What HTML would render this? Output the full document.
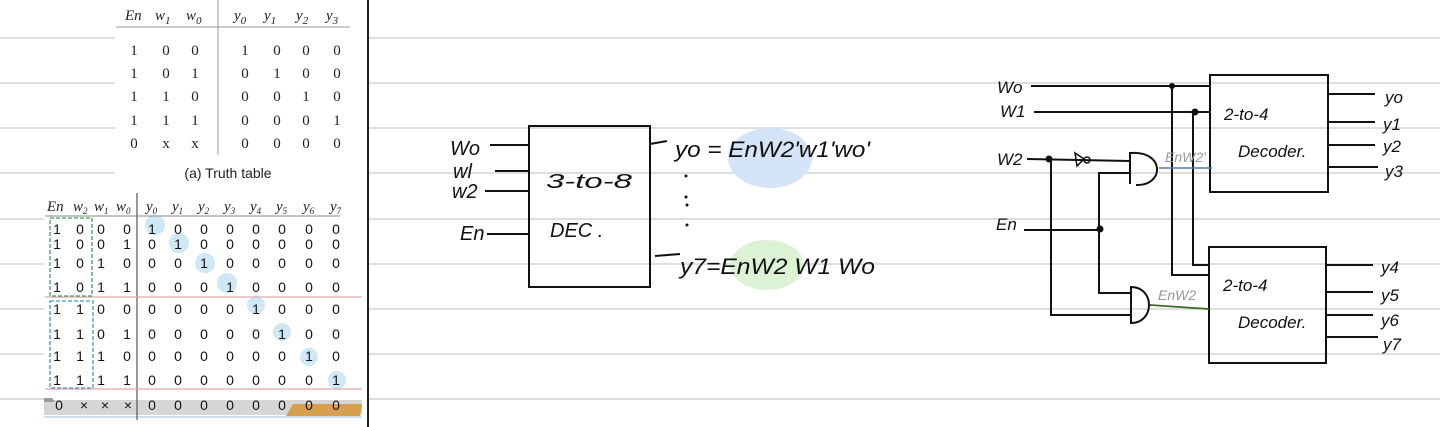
<!DOCTYPE html>
<html><head><meta charset="utf-8"><style>
html,body{margin:0;padding:0;background:#fff;}
svg{display:block}
.t{font-family:"Liberation Serif",serif;font-size:15px;fill:#222}
.ti{font-family:"Liberation Serif",serif;font-style:italic;font-size:15px;fill:#222}
.s{font-family:"Liberation Sans",sans-serif;font-size:14px;fill:#222}
.h{font-family:"Liberation Sans",sans-serif;font-style:italic;fill:#111}
</style></head><body>
<svg width="1440" height="427" viewBox="0 0 1440 427" xmlns="http://www.w3.org/2000/svg">
<g stroke="#d4d4d4" stroke-width="1.5">
<line x1="0" y1="38" x2="1440" y2="38"/><line x1="0" y1="83" x2="1440" y2="83"/>
<line x1="0" y1="128" x2="1440" y2="128"/><line x1="0" y1="173" x2="1440" y2="173"/>
<line x1="0" y1="219" x2="1440" y2="219"/><line x1="0" y1="264" x2="1440" y2="264"/>
<line x1="0" y1="309" x2="1440" y2="309"/><line x1="0" y1="354" x2="1440" y2="354"/>
<line x1="0" y1="399" x2="1440" y2="399"/>
</g>
<rect x="115" y="0" width="252" height="190" fill="#fff"/>
<rect x="44" y="190" width="323" height="237" fill="#fff"/>
<line x1="368" y1="0" x2="368" y2="427" stroke="#222" stroke-width="2"/>

<g class="ti" font-size="17">
<text x="125" y="20">En</text><text x="155" y="20">w<tspan font-size="11" dy="4">1</tspan></text><text x="186" y="20">w<tspan font-size="11" dy="4">0</tspan></text>
<text x="234" y="20">y<tspan font-size="11" dy="4">0</tspan></text><text x="264" y="20">y<tspan font-size="11" dy="4">1</tspan></text><text x="296" y="20">y<tspan font-size="11" dy="4">2</tspan></text><text x="326" y="20">y<tspan font-size="11" dy="4">3</tspan></text>
</g>
<line x1="116" y1="27" x2="350" y2="27" stroke="#999"/>
<line x1="218" y1="0" x2="218" y2="155" stroke="#999"/>
<g class="t" font-size="17" text-anchor="middle">
<text x="134" y="55">1</text><text x="166" y="55">0</text><text x="195" y="55">0</text><text x="245" y="55">1</text><text x="277" y="55">0</text><text x="306" y="55">0</text><text x="337" y="55">0</text>
<text x="134" y="78">1</text><text x="166" y="78">0</text><text x="195" y="78">1</text><text x="245" y="78">0</text><text x="277" y="78">1</text><text x="306" y="78">0</text><text x="337" y="78">0</text>
<text x="134" y="101">1</text><text x="166" y="101">1</text><text x="195" y="101">0</text><text x="245" y="101">0</text><text x="277" y="101">0</text><text x="306" y="101">1</text><text x="337" y="101">0</text>
<text x="134" y="125">1</text><text x="166" y="125">1</text><text x="195" y="125">1</text><text x="245" y="125">0</text><text x="277" y="125">0</text><text x="306" y="125">0</text><text x="337" y="125">1</text>
<text x="134" y="148">0</text><text x="166" y="148">x</text><text x="195" y="148">x</text><text x="245" y="148">0</text><text x="277" y="148">0</text><text x="306" y="148">0</text><text x="337" y="148">0</text>
</g>
<text x="228" y="178" class="s" font-size="16" text-anchor="middle">(a) Truth table</text>

<g fill="#cfe8f6">
<circle cx="155" cy="225" r="10"/><circle cx="179" cy="243" r="10"/><circle cx="205" cy="263" r="10"/><circle cx="227" cy="283" r="10"/>
<circle cx="256" cy="305" r="9"/><circle cx="282" cy="332" r="9"/><circle cx="309" cy="357" r="9"/><circle cx="337" cy="380" r="9"/>
</g>
<rect x="44" y="400" width="318" height="15" fill="#d6d6d6"/>
<polygon points="44,398 52,398 55,402 44,402" fill="#9a9a9a"/>
<polygon points="293,404 362,404 360,416 286,416" fill="#d6a050"/>
<line x1="44" y1="417" x2="362" y2="417" stroke="#9bbfd6" stroke-width="1"/>
<line x1="45" y1="216" x2="340" y2="216" stroke="#888"/>
<line x1="137" y1="193" x2="137" y2="420" stroke="#555" stroke-width="1.2"/>
<line x1="45" y1="297" x2="362" y2="297" stroke="#e0a8a8" stroke-width="1.2"/>
<line x1="45" y1="389" x2="362" y2="389" stroke="#e0a8a8" stroke-width="1.2"/>
<rect x="50" y="218" width="42" height="78" fill="none" stroke="#4a9a58" stroke-width="1.3" stroke-dasharray="4,2"/>
<rect x="50" y="301" width="43" height="87" fill="none" stroke="#4a90c8" stroke-width="1.3" stroke-dasharray="4,2"/>
<g class="ti" font-size="14">
<text x="47" y="211">En</text><text x="73" y="211">w<tspan font-size="9" dy="3">2</tspan></text><text x="94" y="211">w<tspan font-size="9" dy="3">1</tspan></text><text x="116" y="211">w<tspan font-size="9" dy="3">0</tspan></text>
<text x="146" y="211">y<tspan font-size="9" dy="3">0</tspan></text><text x="172" y="211">y<tspan font-size="9" dy="3">1</tspan></text><text x="198" y="211">y<tspan font-size="9" dy="3">2</tspan></text><text x="224" y="211">y<tspan font-size="9" dy="3">3</tspan></text>
<text x="250" y="211">y<tspan font-size="9" dy="3">4</tspan></text><text x="276" y="211">y<tspan font-size="9" dy="3">5</tspan></text><text x="303" y="211">y<tspan font-size="9" dy="3">6</tspan></text><text x="330" y="211">y<tspan font-size="9" dy="3">7</tspan></text>
</g>
<g font-family="Liberation Sans,sans-serif" font-size="14" fill="#111" text-anchor="middle">
<text x="57" y="234">1</text><text x="80" y="234">0</text><text x="101" y="234">0</text><text x="127" y="234">0</text><text x="152" y="234">1</text><text x="178" y="234">0</text><text x="204" y="234">0</text><text x="230" y="234">0</text><text x="256" y="234">0</text><text x="282" y="234">0</text><text x="309" y="234">0</text><text x="336" y="234">0</text>
<text x="57" y="249">1</text><text x="80" y="249">0</text><text x="101" y="249">0</text><text x="127" y="249">1</text><text x="152" y="249">0</text><text x="178" y="249">1</text><text x="204" y="249">0</text><text x="230" y="249">0</text><text x="256" y="249">0</text><text x="282" y="249">0</text><text x="309" y="249">0</text><text x="336" y="249">0</text>
<text x="57" y="268">1</text><text x="80" y="268">0</text><text x="101" y="268">1</text><text x="127" y="268">0</text><text x="152" y="268">0</text><text x="178" y="268">0</text><text x="204" y="268">1</text><text x="230" y="268">0</text><text x="256" y="268">0</text><text x="282" y="268">0</text><text x="309" y="268">0</text><text x="336" y="268">0</text>
<text x="57" y="292">1</text><text x="80" y="292">0</text><text x="101" y="292">1</text><text x="127" y="292">1</text><text x="152" y="292">0</text><text x="178" y="292">0</text><text x="204" y="292">0</text><text x="230" y="292">1</text><text x="256" y="292">0</text><text x="282" y="292">0</text><text x="309" y="292">0</text><text x="336" y="292">0</text>
<text x="57" y="314">1</text><text x="80" y="314">1</text><text x="101" y="314">0</text><text x="127" y="314">0</text><text x="152" y="314">0</text><text x="178" y="314">0</text><text x="204" y="314">0</text><text x="230" y="314">0</text><text x="256" y="314">1</text><text x="282" y="314">0</text><text x="309" y="314">0</text><text x="336" y="314">0</text>
<text x="57" y="339">1</text><text x="80" y="339">1</text><text x="101" y="339">0</text><text x="127" y="339">1</text><text x="152" y="339">0</text><text x="178" y="339">0</text><text x="204" y="339">0</text><text x="230" y="339">0</text><text x="256" y="339">0</text><text x="282" y="339">1</text><text x="309" y="339">0</text><text x="336" y="339">0</text>
<text x="57" y="361">1</text><text x="80" y="361">1</text><text x="101" y="361">1</text><text x="127" y="361">0</text><text x="152" y="361">0</text><text x="178" y="361">0</text><text x="204" y="361">0</text><text x="230" y="361">0</text><text x="256" y="361">0</text><text x="282" y="361">0</text><text x="309" y="361">1</text><text x="336" y="361">0</text>
<text x="57" y="385">1</text><text x="80" y="385">1</text><text x="101" y="385">1</text><text x="127" y="385">1</text><text x="152" y="385">0</text><text x="178" y="385">0</text><text x="204" y="385">0</text><text x="230" y="385">0</text><text x="256" y="385">0</text><text x="282" y="385">0</text><text x="309" y="385">0</text><text x="336" y="385">1</text>
<text x="59" y="410">0</text><text x="84" y="410">×</text><text x="105" y="410">×</text><text x="128" y="410">×</text><text x="152" y="410">0</text><text x="178" y="410">0</text><text x="204" y="410">0</text><text x="230" y="410">0</text><text x="256" y="410">0</text><text x="282" y="410">0</text><text x="309" y="410">0</text><text x="336" y="410">0</text>
</g>

<ellipse cx="770" cy="158" rx="42" ry="30" fill="#d5e5f7"/>
<ellipse cx="767" cy="265" rx="37" ry="25" fill="#dcf2d4"/>
<g stroke="#111" stroke-width="2" fill="none">
<rect x="529" y="126" width="121" height="161"/>
<line x1="490" y1="145" x2="528" y2="145"/><line x1="495" y1="171" x2="528" y2="171"/>
<line x1="485" y1="191" x2="530" y2="191"/><line x1="487" y1="234" x2="528" y2="234"/>
<line x1="650" y1="144" x2="667" y2="141"/><line x1="655" y1="256" x2="680" y2="254"/>
</g>
<g class="h" font-size="20">
<text x="450" y="155">Wo</text><text x="453" y="178">wl</text><text x="452" y="198">w2</text><text x="460" y="240">En</text>
<text x="546" y="188" textLength="86" lengthAdjust="spacingAndGlyphs">3-to-8</text><text x="550" y="237">DEC .</text>
<text x="675" y="157" font-size="22" textLength="195" lengthAdjust="spacingAndGlyphs">yo = EnW2'w1'wo'</text>
<text x="680" y="274" font-size="22" textLength="195" lengthAdjust="spacingAndGlyphs">y7=EnW2 W1 Wo</text>
</g>
<g fill="#111"><circle cx="686" cy="176" r="1.5"/><circle cx="686" cy="197" r="1.5"/><circle cx="687" cy="205" r="1.5"/><circle cx="687" cy="225" r="1.5"/></g>

<g stroke="#111" stroke-width="2" fill="none">
<rect x="1210" y="75" width="118" height="117"/>
<rect x="1209" y="247" width="117" height="116"/>
<line x1="1031" y1="86" x2="1211" y2="86"/>
<polyline points="1172,86 1172,275 1209,275"/>
<line x1="1034" y1="112" x2="1210" y2="112"/>
<polyline points="1193,112 1193,265 1210,265"/>
<line x1="1027" y1="159" x2="1130" y2="161"/>
<polyline points="1051,159 1051,315 1130,315"/>
<line x1="1024" y1="230" x2="1100" y2="230"/>
<polyline points="1130,173 1099,173 1099,293 1131,293"/>
<path d="M1130,152 L1130,184 M1130,153 C1165,150 1165,186 1136,185"/>
<path d="M1131,286 L1131,324 M1131,287 C1155,287 1155,323 1131,323"/>
<path d="M1075,153 L1077,166 L1084,159 Z" stroke-width="1.5"/>
<circle cx="1087" cy="160" r="3" stroke-width="1.5"/>
<line x1="1328" y1="94" x2="1375" y2="94"/><line x1="1328" y1="122" x2="1375" y2="122"/>
<line x1="1328" y1="145" x2="1375" y2="145"/><line x1="1328" y1="167" x2="1378" y2="167"/>
<line x1="1326" y1="265" x2="1373" y2="265"/><line x1="1326" y1="292" x2="1373" y2="292"/>
<line x1="1326" y1="315" x2="1373" y2="315"/><line x1="1326" y1="337" x2="1378" y2="337"/>
</g>
<line x1="1159" y1="168" x2="1212" y2="168" stroke="#5577aa" stroke-width="1.5"/>
<line x1="1150" y1="305" x2="1209" y2="309" stroke="#3f6a2a" stroke-width="1.8"/>
<g fill="#111"><circle cx="1172" cy="86" r="3"/><circle cx="1195" cy="112" r="3.5"/><circle cx="1049" cy="159" r="3.5"/><circle cx="1100" cy="229" r="3.5"/></g>
<g class="h" font-size="17">
<text x="997" y="93">Wo</text><text x="1000" y="117">W1</text><text x="997" y="165">W2</text><text x="996" y="230">En</text>
<text x="1224" y="120">2-to-4</text><text x="1238" y="157">Decoder.</text>
<text x="1223" y="291">2-to-4</text><text x="1238" y="328">Decoder.</text>
<text x="1385" y="103">yo</text><text x="1383" y="130">y1</text><text x="1383" y="152">y2</text><text x="1385" y="177">y3</text>
<text x="1381" y="273">y4</text><text x="1381" y="301">y5</text><text x="1381" y="326">y6</text><text x="1383" y="350">y7</text>
</g>
<g class="h" font-size="14"><text x="1165" y="162" style="fill:#999">EnW2'</text><text x="1158" y="300" style="fill:#999">EnW2</text></g>
</svg>
</body></html>
